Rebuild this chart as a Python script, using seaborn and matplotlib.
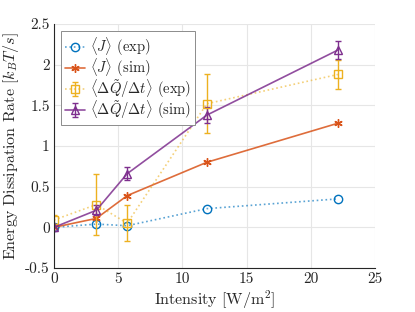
import numpy as np
import pandas as pd
import matplotlib
matplotlib.use("Agg")
import matplotlib.pyplot as plt
import seaborn as sns

intensity = [0, 3.3, 5.7, 11.9, 22.1]
j_exp = [0.0, 0.04, 0.02, 0.23, 0.35]
j_sim = [0.0, 0.11, 0.39, 0.80, 1.28]
dq_exp = [0.09, 0.28, 0.05, 1.52, 1.88]
dq_exp_err = [0.06, 0.38, 0.22, 0.36, 0.18]
dq_sim = [0.0, 0.21, 0.66, 1.38, 2.18]
dq_sim_err = [0.04, 0.06, 0.08, 0.10, 0.11]

blue = "#0072BD"
orange = "#D95319"
yellow = "#EDB120"
purple = "#7E2F8E"

sns.set_style("whitegrid")
plt.rcParams["font.family"] = "serif"
plt.rcParams["font.serif"] = ["cmr10"]
plt.rcParams["mathtext.fontset"] = "cm"
plt.rcParams["axes.unicode_minus"] = False
plt.rcParams["axes.formatter.use_mathtext"] = True

fig = plt.figure(figsize=(4.15, 3.12), dpi=100)
ax = fig.add_axes([0.130, 0.141, 0.774, 0.782])

def soft(c, a=0.65):
    return matplotlib.colors.to_rgba(c, a)

sns.lineplot(x=intensity, y=j_exp, ax=ax, color=soft(blue), linestyle=":", lw=1.2,
             marker="o", ms=6, markerfacecolor="none", markeredgecolor=blue,
             markeredgewidth=1.0, label=r"$\langle J\rangle$ (exp)")
sns.lineplot(x=intensity, y=j_sim, ax=ax, color=soft(orange, 0.85), lw=1.2,
             marker=(6, 2, 0), ms=6, markeredgecolor=orange, markeredgewidth=1.0,
             label=r"$\langle J\rangle$ (sim)")
ax.errorbar(intensity, dq_exp, yerr=dq_exp_err, color=soft(yellow, 0.6), ls=":", lw=1.2,
            marker="s", ms=6, mfc="none", mec=yellow, mew=1.0,
            ecolor=yellow, elinewidth=1.0, capsize=2.5,
            label=r"$\langle \Delta\tilde{Q}/\Delta t\rangle$ (exp)")
ax.errorbar(intensity, dq_sim, yerr=dq_sim_err, color=soft(purple, 0.85), ls="-", lw=1.2,
            marker="^", ms=6, mfc="none", mec=purple, mew=1.0,
            ecolor=purple, elinewidth=1.0, capsize=2.5,
            label=r"$\langle \Delta\tilde{Q}/\Delta t\rangle$ (sim)")

ax.set_xlim(0, 25)
ax.set_ylim(-0.5, 2.5)
ax.set_xticks([0, 5, 10, 15, 20, 25])
ax.set_yticks([-0.5, 0, 0.5, 1, 1.5, 2, 2.5])
ax.set_yticklabels(["-0.5", "0", "0.5", "1", "1.5", "2", "2.5"])
ax.set_xticklabels(["0", "5", "10", "15", "20", "25"])
ax.grid(True, color="#e6e6e6", lw=0.8)
for s in ["top", "right"]:
    ax.spines[s].set_visible(False)
for s in ["left", "bottom"]:
    ax.spines[s].set_color("#262626")
    ax.spines[s].set_linewidth(0.8)
ax.tick_params(direction="in", length=3, width=0.6, labelsize=11, colors="#262626", pad=3)
ax.set_xlabel(r"Intensity [$\mathrm{W/m^2}$]", fontsize=11.5, color="#262626", labelpad=2)
ax.set_ylabel(r"Energy Dissipation Rate [$k_BT/s$]", fontsize=11.5, color="#262626", labelpad=3)

leg = ax.legend(loc="upper left", fontsize=10.5, frameon=True, fancybox=False,
                edgecolor="#8c8c8c", framealpha=1, borderpad=0.25, labelspacing=-0.12,
                handlelength=1.4, handletextpad=0.35, borderaxespad=0.5)
leg.get_frame().set_linewidth(0.7)

fig.savefig("out.png", dpi=100)
